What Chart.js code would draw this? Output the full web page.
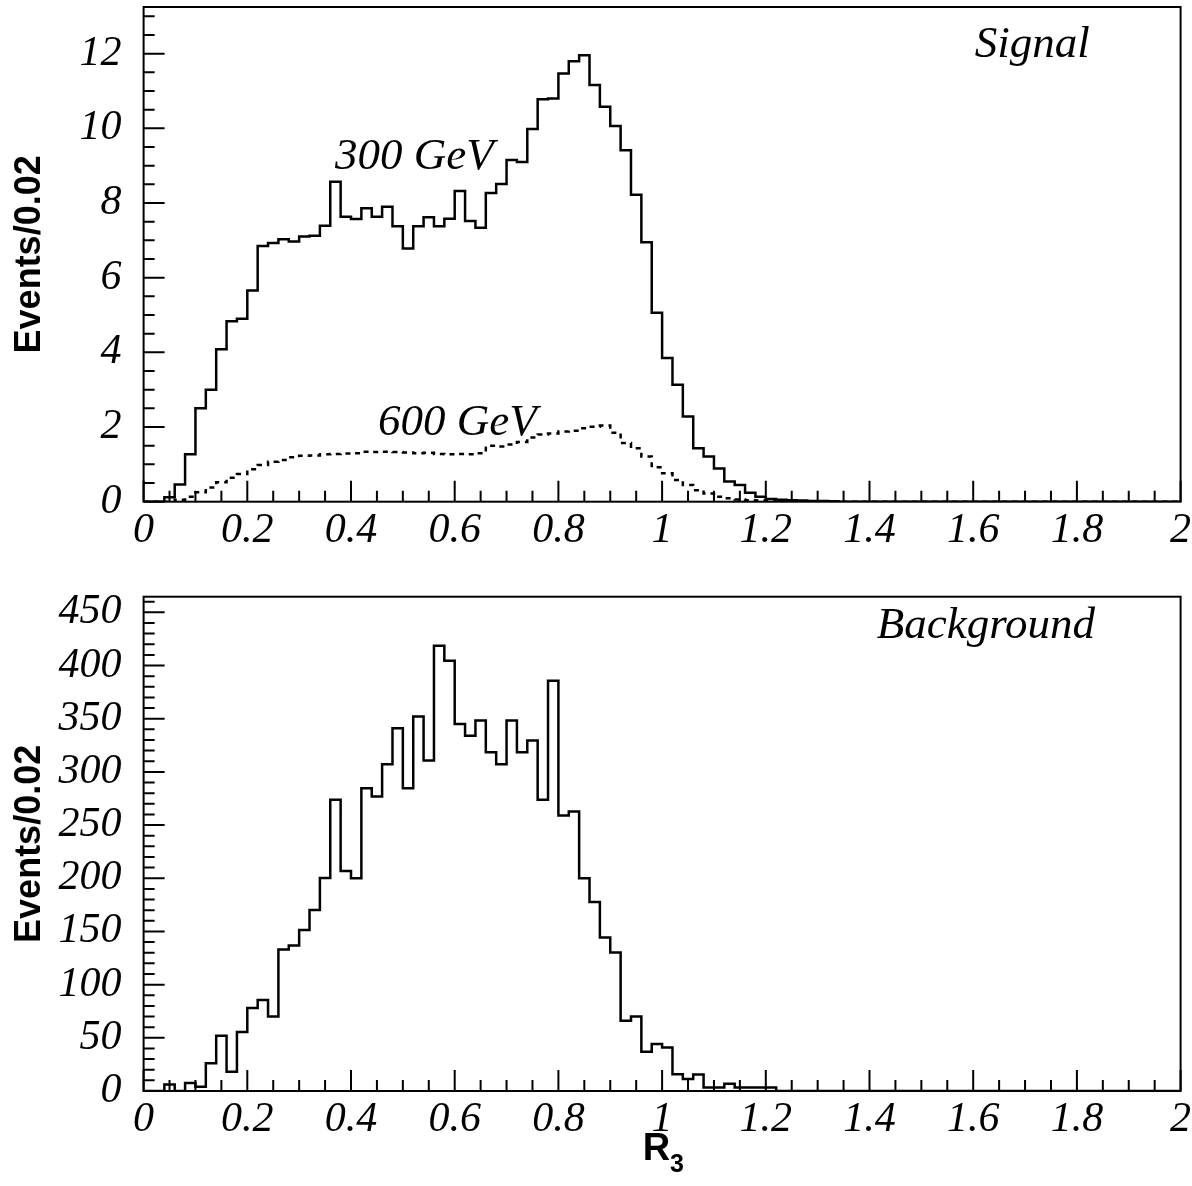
<!DOCTYPE html>
<html>
<head>
<meta charset="utf-8">
<script src="https://cdn.jsdelivr.net/npm/chart.js@4.4.1/dist/chart.umd.min.js"></script>
<style>
  html, body { margin: 0; padding: 0; background: #fff; }
  #wrap { position: relative; width: 1192px; height: 1186px; }
  canvas { position: absolute; left: 0; }
  #top { top: 0; }
  #bottom { top: 560px; }
</style>
</head>
<body>
<div id="wrap">
  <canvas id="top" width="1192" height="560"></canvas>
  <canvas id="bottom" width="1192" height="626"></canvas>
</div>
<script>
// R3 bins: 100 bins of 0.02 from 0 to 2 (low edges)
const binLow = Array.from({ length: 100 }, (_, i) => +(i * 0.02).toFixed(2))

// signal, 300 GeV (events / 0.02)
const sig300 = [
  0, 0, 0.12, 0.46, 1.27, 2.5, 3.0, 4.08, 4.83, 4.9,
  5.66, 6.85, 6.93, 7.03, 6.97, 7.1, 7.12, 7.39, 8.57, 7.63,
  7.57, 7.86, 7.63, 7.9, 7.38, 6.78, 7.38, 7.62, 7.38, 7.58,
  8.32, 7.52, 7.34, 8.27, 8.51, 9.15, 9.1, 9.98, 10.78, 10.8,
  11.47, 11.8, 11.96, 11.16, 10.58, 10.06, 9.41, 8.22, 6.95, 5.06,
  3.85, 3.13, 2.28, 1.43, 1.21, 0.89, 0.54, 0.45, 0.24, 0.13,
  0.07, 0.05, 0.04, 0.03, 0.02, 0.02, 0.01, 0, 0, 0,
  0, 0, 0, 0, 0, 0, 0, 0, 0, 0,
  0, 0, 0, 0, 0, 0, 0, 0, 0, 0,
  0, 0, 0, 0, 0, 0, 0, 0, 0, 0
]

// signal, 600 GeV
const sig600 = [
  0, 0, 0, 0.05, 0.13, 0.25, 0.38, 0.52, 0.64, 0.74,
  0.87, 0.98, 1.07, 1.12, 1.19, 1.23, 1.24, 1.27, 1.28, 1.29,
  1.3, 1.34, 1.33, 1.34, 1.33, 1.32, 1.3, 1.31, 1.28, 1.27,
  1.28, 1.27, 1.3, 1.5, 1.48, 1.53, 1.6, 1.72, 1.8, 1.83,
  1.88, 1.9, 1.97, 2.01, 2.04, 1.85, 1.57, 1.43, 1.21, 0.92,
  0.76, 0.58, 0.45, 0.31, 0.22, 0.13, 0.09, 0.06, 0.04, 0.03,
  0.02, 0, 0, 0, 0, 0, 0, 0, 0, 0,
  0, 0, 0, 0, 0, 0, 0, 0, 0, 0,
  0, 0, 0, 0, 0, 0, 0, 0, 0, 0,
  0, 0, 0, 0, 0, 0, 0, 0, 0, 0
]

// background
const bkg = [
  0, 0, 6, 0, 7.5, 4, 26, 52, 18, 55.5,
  78, 85.6, 70, 133, 136.7, 151.4, 170.2, 200.3, 273.7, 206.9,
  200, 284.6, 276.8, 307.2, 341, 284.6, 352, 310.7, 418.5, 404.4,
  345, 333.9, 348.3, 318.5, 307.2, 348.3, 318.5, 329.5, 273.7, 385.6,
  258.9, 262.7, 200, 177.7, 144.2, 130.1, 66.1, 70, 37, 44.2,
  40.8, 15.7, 11.3, 15.4, 3.4, 3.4, 6.9, 3.4, 3.4, 3.4,
  3.4, 0, 0, 0, 0, 0, 0, 0, 0, 0,
  0, 0, 0, 0, 0, 0, 0, 0, 0, 0,
  0, 0, 0, 0, 0, 0, 0, 0, 0, 0,
  0, 0, 0, 0, 0, 0, 0, 0, 0, 0
]

// tick labels
const xTicks = [0, 0.2, 0.4, 0.6, 0.8, 1, 1.2, 1.4, 1.6, 1.8, 2]
const topYTicks = [0, 2, 4, 6, 8, 10, 12]
const bottomYTicks = [0, 50, 100, 150, 200, 250, 300, 350, 400, 450]

const tickFont = { family: 'Liberation Serif', style: 'italic', size: 42 }
const noteFont = 'italic 45px "Liberation Serif"'

// step line from bin contents
function histPoints(vals) {
    const pts = vals.map((v, i) => ({ x: binLow[i], y: v }))
    pts.push({ x: 2, y: vals[vals.length - 1] })
    return pts
}

// frame, inward ticks and text notes
const frameTicks = {
    id: 'frameTicks',
    afterDraw(chart, args, opts) {
        const { ctx, chartArea: a, scales: { x, y } } = chart
        ctx.save()
        ctx.strokeStyle = '#000'
        ctx.lineWidth = 2
        ctx.beginPath()
        for (let v = 0; v <= 2.0001; v += 0.05) {
            const px = x.getPixelForValue(v)
            const major = Math.abs(v / 0.2 - Math.round(v / 0.2)) < 1e-6
            ctx.moveTo(px, a.bottom)
            ctx.lineTo(px, a.bottom - (major ? 21 : 11))
        }
        for (let v = 0; v <= y.max; v += opts.yMinor) {
            const py = y.getPixelForValue(v)
            const major = Math.abs(v / opts.yMajor - Math.round(v / opts.yMajor)) < 1e-6
            ctx.moveTo(a.left, py)
            ctx.lineTo(a.left + (major ? 21 : 11), py)
        }
        ctx.stroke()
        ctx.strokeRect(a.left, a.top, a.right - a.left, a.bottom - a.top)

        ctx.fillStyle = '#000'
        ctx.textBaseline = 'alphabetic'
        ctx.font = noteFont
        for (const n of opts.notes) {
            ctx.textAlign = n.align
            ctx.fillText(n.text, x.getPixelForValue(n.x), y.getPixelForValue(n.y))
        }
        if (opts.xTitle) {
            const cx = (a.left + a.right) / 2
            ctx.textAlign = 'right'
            ctx.font = 'bold 38px "Liberation Sans"'
            ctx.fillText('R', cx + 8, a.bottom + 69)
            ctx.textAlign = 'left'
            ctx.font = 'bold 25px "Liberation Sans"'
            ctx.fillText('3', cx + 8, a.bottom + 81)
        }
        ctx.restore()
    }
}

function makeChart(el, datasets, yMax, yTicks, padTop, xHeight, plug) {
    return new Chart(document.getElementById(el), {
        type: 'line',
        data: { datasets: datasets },
        plugins: [frameTicks],
        options: {
            responsive: false,
            animation: false,
            layout: { padding: { top: padTop, right: 11.4, left: 0, bottom: 0 } },
            plugins: {
                legend: { display: false },
                tooltip: { enabled: false },
                frameTicks: plug
            },
            scales: {
                x: {
                    type: 'linear', min: 0, max: 2,
                    afterFit: (s) => {
                        s.height = xHeight
                        s.paddingLeft = 0
                        s.paddingRight = 0
                    },
                    afterBuildTicks: (s) => { s.ticks = xTicks.map(v => ({ value: v })) },
                    grid: { display: false, drawTicks: false },
                    border: { display: false },
                    ticks: {
                        padding: 4, color: '#000', font: tickFont,
                        maxRotation: 0, autoSkip: false,
                        callback: (v) => String(Math.round(v * 10) / 10)
                    }
                },
                y: {
                    type: 'linear', min: 0, max: yMax,
                    afterFit: (s) => {
                        s.width = 143.6
                        s.paddingTop = 0
                        s.paddingBottom = 0
                    },
                    afterBuildTicks: (s) => { s.ticks = yTicks.map(v => ({ value: v })) },
                    grid: { display: false, drawTicks: false },
                    border: { display: false },
                    ticks: { padding: 22, color: '#000', font: tickFont },
                    title: {
                        display: true, text: 'Events/0.02', color: '#000',
                        font: { family: 'Liberation Sans', weight: 'bold', size: 36 },
                        padding: { top: 8, bottom: 0 }
                    }
                }
            }
        }
    })
}

const lineStyle = {
    stepped: 'before', borderColor: '#000', borderWidth: 2.5,
    pointRadius: 0, fill: false, tension: 0
}

makeChart('top', [
    Object.assign({ label: '300 GeV', data: histPoints(sig300) }, lineStyle),
    Object.assign({ label: '600 GeV', data: histPoints(sig600), borderDash: [5, 5] }, lineStyle)
], 13.25, topYTicks, 7, 58.3, {
    yMinor: 0.5, yMajor: 2,
    notes: [
        { text: 'Signal', x: 1.825, y: 11.9, align: 'right' },
        { text: '300 GeV', x: 0.369, y: 8.9, align: 'left' },
        { text: '600 GeV', x: 0.452, y: 1.79, align: 'left' }
    ]
})

makeChart('bottom', [
    Object.assign({ label: 'Background', data: histPoints(bkg) }, lineStyle)
], 464.7, bottomYTicks, 36.7, 95, {
    yMinor: 10, yMajor: 50, xTitle: true,
    notes: [
        { text: 'Background', x: 1.835, y: 426, align: 'right' }
    ]
})
</script>
</body>
</html>
